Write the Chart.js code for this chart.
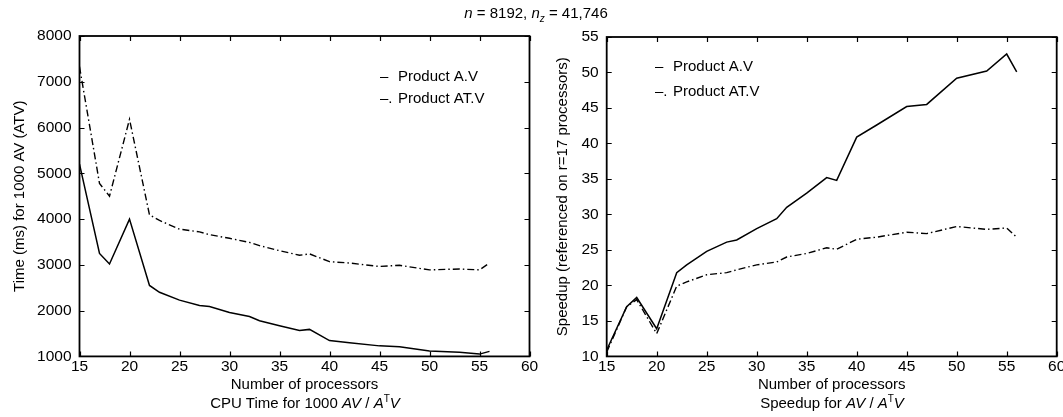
<!DOCTYPE html>
<html><head><meta charset="utf-8">
<script src="https://cdn.jsdelivr.net/npm/chart.js@4/dist/chart.umd.min.js"></script>
<style>
html,body{margin:0;padding:0;background:#fff;overflow:hidden;width:1063px;height:417px;}
body{position:relative;font-family:"Liberation Sans",Arial,Helvetica,sans-serif;color:#000;}
canvas{position:absolute;top:0;}
#c1{left:0;}
#c2{left:545px;}
.txt{position:absolute;white-space:nowrap;font-size:15px;line-height:1;transform:translate(-50%,-50%);}
.sup{font-size:10px;position:relative;top:-6px;}
.sub{font-size:10px;position:relative;top:4px;}
</style></head>
<body>
<canvas id="c1" width="545" height="417"></canvas>
<canvas id="c2" width="518" height="417"></canvas>
<div class="txt" style="left:536px;top:12px"><i>n</i> = 8192, <i>n</i><span class="sub"><i>z</i></span> = 41,746</div>
<div class="txt" style="left:305px;top:402px">CPU Time for 1000 <i>AV</i> / <i>A</i><span class="sup">T</span><i>V</i></div>
<div class="txt" style="left:832px;top:402px">Speedup for <i>AV</i> / <i>A</i><span class="sup">T</span><i>V</i></div>
<script>
// ---- data ----
const procs    = [15,17,18,20,22,23,25,27,28,30,32,33,35,37,38,40,42,45,47,50,53,55,56];
const timeAV   = [5200,3250,3020,4000,2550,2400,2230,2110,2090,1960,1870,1780,1670,1565,1590,1345,1300,1230,1210,1120,1090,1050,1110];
const timeATV  = [7330,4780,4500,6180,4090,3970,3780,3720,3660,3580,3490,3420,3310,3210,3240,3070,3040,2965,2990,2890,2910,2890,3040];
const speedAV  = [10.9,17.0,18.3,13.9,21.8,22.9,24.8,26.1,26.4,28.0,29.4,31.0,33.0,35.2,34.8,40.9,42.6,45.2,45.5,49.2,50.2,52.6,50.1];
const speedATV = [10.6,17.0,18.0,13.2,19.9,20.5,21.5,21.8,22.2,22.9,23.3,24.0,24.5,25.3,25.1,26.5,26.8,27.5,27.3,28.3,27.9,28.1,26.8];
const seriesNames = ['Product A.V', 'Product AT.V'];
const seriesMarks = ['\u2013 ', '\u2013.'];
const xTitle = 'Number of processors';
const yTitleLeft = 'Time (ms) for 1000 AV (ATV)';
const yTitleRight = 'Speedup (referenced on r=17 processors)';

const FONT = '"Liberation Sans", Arial, Helvetica, sans-serif';
const pts = (ys) => procs.map((x, i) => ({x, y: ys[i]}));

const framePlugin = {
  id: 'frame',
  afterDatasetsDraw(chart) {
    const {ctx, chartArea: {left, right, top, bottom}, scales: {x, y}} = chart;
    ctx.save();
    ctx.strokeStyle = '#000';
    ctx.lineWidth = 1.8;
    ctx.strokeRect(left, top, right - left, bottom - top);
    ctx.lineWidth = 1.2;
    ctx.beginPath();
    const L = 5;
    x.ticks.forEach(t => {
      const px = Math.round(x.getPixelForValue(t.value)) + 0.5;
      ctx.moveTo(px, bottom); ctx.lineTo(px, bottom - L);
      ctx.moveTo(px, top); ctx.lineTo(px, top + L);
    });
    y.ticks.forEach(t => {
      const py = Math.round(y.getPixelForValue(t.value)) + 0.5;
      ctx.moveTo(left, py); ctx.lineTo(left + L, py);
      ctx.moveTo(right, py); ctx.lineTo(right - L, py);
    });
    ctx.stroke();
    ctx.restore();
  }
};

const legendPlugin = {
  id: 'mlLegend',
  afterDraw(chart, args, opts) {
    const {ctx} = chart;
    ctx.save();
    ctx.fillStyle = '#000';
    ctx.font = '15px ' + FONT;
    ctx.textBaseline = 'middle';
    chart.data.datasets.forEach((ds, i) => {
      const yy = opts.y + i * opts.dy;
      ctx.fillText(ds.mark, opts.x, yy);
      ctx.fillText(ds.label, opts.x + 18, yy);
    });
    ctx.restore();
  }
};

function makeChart(id, ys1, ys2, yMin, yMax, yStep, yTitle, cfg) {
  return new Chart(document.getElementById(id), {
    type: 'line',
    data: {
      datasets: [
        {label: seriesNames[0], mark: seriesMarks[0], data: pts(ys1), borderColor: '#000', borderWidth: 1.5, pointRadius: 0, tension: 0, fill: false},
        {label: seriesNames[1], mark: seriesMarks[1], data: pts(ys2), borderColor: '#000', borderWidth: 1.4, borderDash: [7, 3, 1.5, 3], pointRadius: 0, tension: 0, fill: false}
      ]
    },
    options: {
      responsive: false,
      animation: false,
      events: [],
      layout: {padding: {left: 0, right: cfg.padRight, top: cfg.padTop, bottom: 0}},
      plugins: {
        legend: {display: false},
        tooltip: {enabled: false},
        mlLegend: {x: cfg.legX, y: cfg.legY, dy: cfg.legDy}
      },
      scales: {
        x: {
          type: 'linear', min: 15, max: 60,
          grid: {display: false, drawTicks: false},
          border: {display: false},
          ticks: {stepSize: 5, color: '#000', font: {family: FONT, size: 15.5}, padding: 1, maxRotation: 0,
                  callback: v => String(v)},
          title: {display: true, text: xTitle, color: '#000', font: {family: FONT, size: 15}, padding: {top: 0, bottom: 23}},
          afterFit(s) { s.height = cfg.xH; s.paddingLeft = 0; s.paddingRight = 0; }
        },
        y: {
          type: 'linear', min: yMin, max: yMax,
          grid: {display: false, drawTicks: false},
          border: {display: false},
          ticks: {stepSize: yStep, color: '#000', font: {family: FONT, size: 15.5}, padding: 8,
                  callback: v => String(v)},
          title: {display: true, text: yTitle, color: '#000', font: {family: FONT, size: 15}, padding: {top: cfg.yTitlePad, bottom: 0}},
          afterFit(s) { s.width = cfg.yW; s.paddingTop = 0; s.paddingBottom = 0; }
        }
      }
    },
    plugins: [framePlugin, legendPlugin]
  });
}

makeChart('c1', timeAV, timeATV, 1000, 8000, 1000, yTitleLeft,
  {padRight: 545 - 529.5, padTop: 36, xH: 417 - 356.4, yW: 79.5, yTitlePad: 11, legX: 380, legY: 77, legDy: 22});
makeChart('c2', speedAV, speedATV, 10, 55, 5, yTitleRight,
  {padRight: 518 - 511.7, padTop: 37, xH: 417 - 356.4, yW: 61.7, yTitlePad: 9, legX: 110, legY: 67, legDy: 25});
</script>
</body></html>
